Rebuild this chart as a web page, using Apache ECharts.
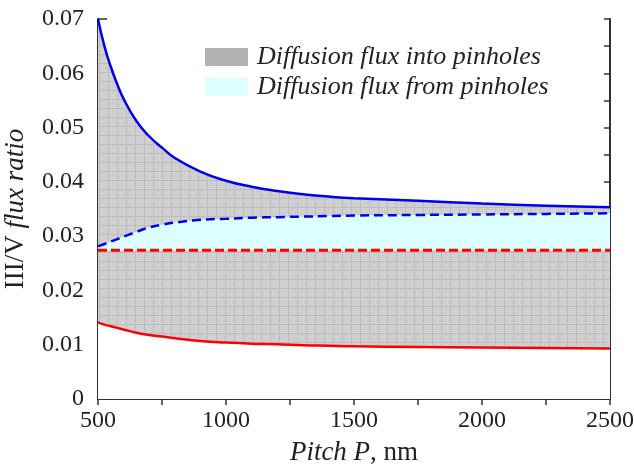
<!DOCTYPE html>
<html>
<head>
<meta charset="utf-8">
<script src="https://cdn.jsdelivr.net/npm/echarts@6/dist/echarts.min.js"></script>
<style>
html, body { margin: 0; padding: 0; background: #fff; }
#chart01 { width: 634px; height: 469px; }
</style>
</head>
<body>
<div id="chart01"></div>
<script>
// pitch P, nm
var pitch = [500, 525, 550, 575, 600, 650, 700, 750, 800, 900, 1000, 1100, 1200, 1300, 1400, 1500, 1750, 2000, 2250, 2500];
// upper bound (blue solid)
var blueSolid = [0.0700, 0.0650, 0.0612, 0.0580, 0.0553, 0.0512, 0.0484, 0.0463, 0.0444, 0.0419, 0.0402, 0.0391, 0.0383, 0.0377, 0.0373, 0.0370, 0.0365, 0.0360, 0.0356, 0.0353];
// blue dashed
var blueDash = [0.0281, 0.02855, 0.0290, 0.02945, 0.0299, 0.0308, 0.0316, 0.0321, 0.0325, 0.0330, 0.0332, 0.0334, 0.0335, 0.0336, 0.0337, 0.0338, 0.0339, 0.0340, 0.0341, 0.0342];
// red dashed
var redDash = [0.0274, 0.0274, 0.0274, 0.0274, 0.0274, 0.0274, 0.0274, 0.0274, 0.0274, 0.0274, 0.0274, 0.0274, 0.0274, 0.0274, 0.0274, 0.0274, 0.0274, 0.0274, 0.0274, 0.0274];
// lower bound (red solid)
var redSolid = [0.0141, 0.0137, 0.0134, 0.0131, 0.0128, 0.0122, 0.0118, 0.0115, 0.0112, 0.0107, 0.0104, 0.0102, 0.0101, 0.0099, 0.0098, 0.0097, 0.0096, 0.0095, 0.0094, 0.0093];

var legendNames = ['Diffusion flux into pinholes', 'Diffusion flux from pinholes'];

function pairs(ys) {
    return pitch.map(function (p, i) { return [p, ys[i]]; });
}

var serif = 'Liberation Serif';
var cyanFill = '#dcffff';

// textured gray fill, like the scanned halftone in the original
var tex = document.createElement('canvas');
tex.width = 9; tex.height = 9;
var tc = tex.getContext('2d');
tc.fillStyle = '#d0d0d0';
tc.fillRect(0, 0, 9, 9);
tc.fillStyle = '#bdbdbd';
tc.fillRect(0, 0, 9, 1);
tc.fillRect(0, 0, 1, 9);
tc.fillStyle = '#c5c5c5';
tc.fillRect(4, 2, 1, 1);
tc.fillRect(2, 6, 1, 1);
tc.fillRect(7, 5, 1, 1);
var grayFill = { image: tex, repeat: 'repeat' };

var myChart = echarts.init(document.getElementById('chart01'));
var option = {
    animation: false,
    backgroundColor: '#fff',
    grid: { left: 98, right: 24, top: 19, bottom: 70, outerBoundsMode: 'none', containLabel: false },
    legend: {
        orient: 'vertical',
        left: 200,
        top: 38,
        icon: 'rect',
        itemWidth: 43,
        itemHeight: 18,
        itemGap: 2,
        textStyle: { fontFamily: serif, fontStyle: 'italic', fontSize: 26, lineHeight: 28, color: '#222', padding: [0, 0, 0, 4] },
        data: [
            { name: legendNames[0], itemStyle: { color: '#b3b3b3' } },
            { name: legendNames[1], itemStyle: { color: cyanFill } }
        ]
    },
    xAxis: [{
        type: 'value',
        min: 500, max: 2500, interval: 500,
        name: '{i|Pitch P}{n|, nm}',
        nameLocation: 'middle',
        nameGap: 40,
        nameTextStyle: {
            rich: {
                i: { fontFamily: serif, fontStyle: 'italic', fontSize: 27, color: '#222' },
                n: { fontFamily: serif, fontSize: 27, color: '#222' }
            }
        },
        axisLine: { lineStyle: { color: '#333', width: 2 } },
        axisTick: { inside: true, length: 8, lineStyle: { color: '#333', width: 1.5 } },
        minorTick: { show: true, splitNumber: 2, length: 5, lineStyle: { color: '#333', width: 1.5 } },
        axisLabel: {
            fontFamily: serif, fontSize: 24, color: '#222', margin: 10,
            formatter: function (v) { return String(v); }
        },
        splitLine: { show: false }
    }, {
        type: 'value',
        position: 'top',
        min: 500, max: 2500, interval: 250,
        axisLine: { show: true, lineStyle: { color: '#333', width: 2 } },
        axisTick: { show: true, inside: true, length: 6, lineStyle: { color: '#333', width: 1.5 } },
        axisLabel: { show: false },
        splitLine: { show: false }
    }],
    yAxis: [{
        type: 'value',
        min: 0, max: 0.07, interval: 0.01,
        name: '{n|III/V }{i|flux ratio}',
        nameLocation: 'middle',
        nameGap: 69,
        nameTextStyle: {
            rich: {
                i: { fontFamily: serif, fontStyle: 'italic', fontSize: 27, color: '#222' },
                n: { fontFamily: serif, fontSize: 27, color: '#222' }
            }
        },
        axisLine: { show: true, lineStyle: { color: '#333', width: 2 } },
        axisTick: { show: true, inside: true, length: 9, lineStyle: { color: '#333', width: 1.5 } },
        minorTick: { show: true, splitNumber: 2, length: 5, lineStyle: { color: '#333', width: 1.5 } },
        axisLabel: {
            fontFamily: serif, fontSize: 24, color: '#222', margin: 14,
            formatter: function (v) { return v === 0 ? '0' : v.toFixed(2); }
        },
        splitLine: { show: false }
    }, {
        type: 'value',
        position: 'right',
        min: 0, max: 0.07, interval: 0.005,
        axisLine: { show: true, lineStyle: { color: '#333', width: 2 } },
        axisTick: { show: true, inside: true, length: 6, lineStyle: { color: '#333', width: 1.5 } },
        axisLabel: { show: false },
        splitLine: { show: false }
    }],
    series: [
        {
            name: legendNames[0],
            type: 'line',
            smooth: true,
            symbol: 'none',
            data: pairs(blueSolid),
            lineStyle: { color: '#0000ee', width: 2.5 },
            itemStyle: { color: '#0000ee' },
            areaStyle: { color: grayFill, opacity: 1, origin: 'start' },
            z: 2
        },
        {
            name: legendNames[1],
            type: 'line',
            smooth: true,
            symbol: 'none',
            data: pairs(blueDash),
            lineStyle: { color: '#0000ee', width: 2.5, type: [9, 5] },
            itemStyle: { color: '#0000ee' },
            areaStyle: { color: cyanFill, opacity: 1, origin: 'start' },
            z: 3
        },
        {
            name: 'redDash',
            type: 'line',
            symbol: 'none',
            data: pairs(redDash),
            lineStyle: { color: '#ff0000', width: 3, type: [9, 4] },
            itemStyle: { color: '#ff0000' },
            areaStyle: { color: grayFill, opacity: 1, origin: 'start' },
            z: 4
        },
        {
            name: 'redSolid',
            type: 'line',
            smooth: true,
            symbol: 'none',
            data: pairs(redSolid),
            lineStyle: { color: '#ff0000', width: 2.5 },
            itemStyle: { color: '#ff0000' },
            areaStyle: { color: '#ffffff', opacity: 1, origin: 'start' },
            z: 5
        }
    ]
};
if (option && typeof option === "object") {
    myChart.setOption(option, true);
}
</script>
</body>
</html>
